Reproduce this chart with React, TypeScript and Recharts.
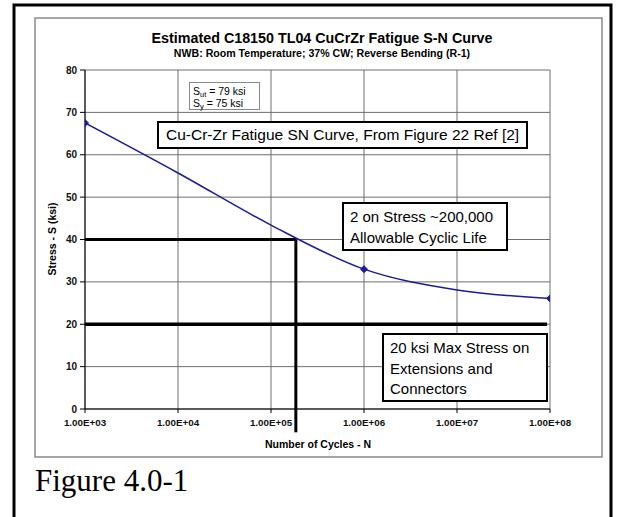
import React from "react";
import { LineChart, Line, XAxis, YAxis, CartesianGrid, ReferenceLine } from "recharts";

// Number of cycles (log scale) and stress
const cycles = [1e3, 1e4, 1e5, 1e6, 1e7, 1e8];
const stressKsi = [67.5, 55.7, 43.4, 33.0, 28.1, 26.1];
const measuredPoint = [true, false, false, true, false, true];

const xTicks = [1e3, 1e4, 1e5, 1e6, 1e7, 1e8];
const yTicks = [0, 10, 20, 30, 40, 50, 60, 70, 80];

// Allowable life at 2x factor on stress, and max stress for extensions
const allowableStress = 40;
const allowableCycles = 1.85e5;
const maxStress = 20;
const maxStressEndCycles = 9.3e7;

const data = cycles.map((c, i) => ({ n: c, s: stressKsi[i], m: measuredPoint[i] }));

const fmtE = (v: number) => {
  const e = Math.round(Math.log10(v));
  const mant = v / Math.pow(10, e);
  return `${mant.toFixed(2)}E+${String(e).padStart(2, "0")}`;
};

const NAVY = "#1c1c9a";
const ARIAL = "'Liberation Sans', Arial, sans-serif";
const CAL = "'Liberation Sans', Arial, sans-serif";

const Diamond = (props: any) => {
  const { cx, cy, payload, index } = props;
  if (!payload || !payload.m || cx == null) return <g key={`d${index}`} />;
  const r = 3.5;
  return (
    <polygon
      key={`d${index}`}
      points={`${cx},${cy - r} ${cx + r},${cy} ${cx},${cy + r} ${cx - r},${cy}`}
      fill={NAVY}
      stroke={NAVY}
    />
  );
};

const boxStyle = (left: number, top: number, width: number, height: number): React.CSSProperties => ({
  position: "absolute",
  left,
  top,
  width,
  height,
  boxSizing: "border-box",
  border: "2px solid #000",
  background: "#fff",
  fontFamily: CAL,
  fontSize: 15,
  color: "#000",
  lineHeight: "20.5px",
  paddingLeft: 6,
  whiteSpace: "nowrap",
});

const subStyle: React.CSSProperties = { fontSize: 7.5, verticalAlign: "-2px", lineHeight: 0 };

export default function App() {
  return (
    <div style={{ position: "absolute", left: 0, top: 0, width: 623, height: 517, background: "#fff", overflow: "hidden" }}>
      <svg width={623} height={517} style={{ position: "absolute", left: 0, top: 0 }}>
        <rect x={14} y={5} width={597} height={540} fill="none" stroke="#000" strokeWidth={3} />
        <rect x={35} y={18} width={567} height={439} fill="none" stroke="#8a8a8a" strokeWidth={1.5} />
        <text x={322} y={43} textAnchor="middle" fontFamily={ARIAL} fontWeight="bold" fontSize={14.3} fill="#000">
          Estimated C18150 TL04 CuCrZr Fatigue S-N Curve
        </text>
        <text x={322} y={57} textAnchor="middle" fontFamily={ARIAL} fontWeight="bold" fontSize={10.6} fill="#000">
          NWB: Room Temperature; 37% CW; Reverse Bending (R-1)
        </text>
        <text x={318} y={448} textAnchor="middle" fontFamily={ARIAL} fontWeight="bold" fontSize={10.5} fill="#000">
          Number of Cycles - N
        </text>
        <text
          x={0}
          y={0}
          transform="translate(56,239) rotate(-90)"
          textAnchor="middle"
          fontFamily={ARIAL}
          fontWeight="bold"
          fontSize={10.5}
          fill="#000"
        >
          Stress - S (ksi)
        </text>
        <text x={35} y={491} fontFamily="'Liberation Serif', 'Times New Roman', serif" fontSize={31} fill="#000">
          Figure 4.0-1
        </text>
      </svg>

      <div style={{ position: "absolute", left: 0, top: 0 }}>
        <LineChart width={623} height={517} data={data} margin={{ top: 70, right: 73, bottom: 78, left: 45 }}>
          <CartesianGrid stroke="#6e6e6e" strokeWidth={1} horizontalValues={yTicks} verticalValues={xTicks} />
          <XAxis
            dataKey="n"
            type="number"
            scale="log"
            domain={[1e3, 1e8]}
            ticks={xTicks}
            tickFormatter={fmtE}
            allowDataOverflow
            height={30}
            stroke="#000"
            tickSize={4}
            tickMargin={6}
            tick={{ fontFamily: ARIAL, fontWeight: "bold", fontSize: 9.8, fill: "#111" }}
          />
          <YAxis
            type="number"
            domain={[0, 80]}
            ticks={yTicks}
            width={40}
            stroke="#000"
            tickSize={5}
            tickMargin={3}
            tick={{ fontFamily: ARIAL, fontWeight: "bold", fontSize: 10, fill: "#111" }}
          />
          <ReferenceLine
            segment={[{ x: 1e3, y: allowableStress }, { x: allowableCycles, y: allowableStress }]}
            stroke="#000"
            strokeWidth={3}
            ifOverflow="visible"
          />
          <ReferenceLine
            segment={[{ x: allowableCycles, y: allowableStress }, { x: allowableCycles, y: -5.5 }]}
            stroke="#000"
            strokeWidth={3}
            ifOverflow="visible"
          />
          <ReferenceLine
            segment={[{ x: 1e3, y: maxStress }, { x: maxStressEndCycles, y: maxStress }]}
            stroke="#000"
            strokeWidth={3.5}
            ifOverflow="visible"
          />
          <Line
            dataKey="s"
            type="monotone"
            stroke={NAVY}
            strokeWidth={1.5}
            dot={Diamond}
            activeDot={false}
            isAnimationActive={false}
          />
        </LineChart>
      </div>

      <div
        style={{
          position: "absolute",
          left: 189,
          top: 82,
          width: 71,
          height: 28,
          boxSizing: "border-box",
          border: "1px solid #8a8a8a",
          background: "#fff",
          fontFamily: ARIAL,
          fontSize: 10.5,
          lineHeight: "12.5px",
          paddingLeft: 3,
          paddingTop: 1.5,
          color: "#000",
          whiteSpace: "nowrap",
        }}
      >
        <div>
          S<sub style={subStyle}>ut</sub> = 79 ksi
        </div>
        <div>
          S<sub style={subStyle}>y</sub> = 75 ksi
        </div>
      </div>

      <div style={{ ...boxStyle(157, 121, 371, 28), fontSize: 15.5, lineHeight: "24px", paddingLeft: 7 }}>
        Cu-Cr-Zr Fatigue SN Curve, From Figure 22 Ref [2]
      </div>
      <div style={{ ...boxStyle(342, 202, 166, 49), paddingTop: 3 }}>
        2 on Stress ~200,000
        <br />
        Allowable Cyclic Life
      </div>
      <div style={{ ...boxStyle(382, 333, 166, 69), paddingTop: 3 }}>
        20 ksi Max Stress on
        <br />
        Extensions and
        <br />
        Connectors
      </div>
    </div>
  );
}
